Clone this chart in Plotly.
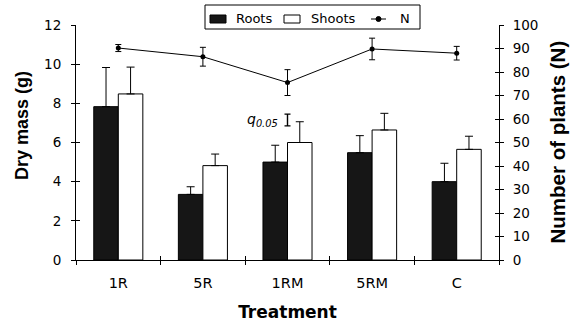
import plotly.graph_objects as go

treatments = ["1R", "5R", "1RM", "5RM", "C"]
roots = [7.83, 3.35, 5.0, 5.48, 4.0]
roots_err = [2.0, 0.39, 0.86, 0.87, 0.94]
shoots = [8.48, 4.82, 6.0, 6.64, 5.65]
shoots_err = [1.37, 0.59, 1.06, 0.85, 0.67]
n_plants = [90.2, 86.5, 75.5, 89.8, 88.0]
n_err = [1.5, 4.0, 5.5, 4.6, 2.9]
q_center = 7.15
q_half = 0.3
legend_labels = ["Roots", "Shoots", "N"]

HFONT = "DejaVu Sans, sans-serif"
VFONT = "Liberation Sans, Arial, sans-serif"

# plot-area geometry (px) used for paper-coordinate placement of the legend
L, R, T, B = 76, 79, 25, 66
W, H = 578, 326
PW, PH = W - L - R, H - T - B


def px(xp):
    return (xp - L) / PW


def py(yp):
    return (H - B - yp) / PH


fig = go.Figure()
fig.add_trace(go.Bar(
    x=treatments, y=roots, name=legend_labels[0], showlegend=False,
    marker=dict(color="#161616", line=dict(color="black", width=1)),
    error_y=dict(type="data", symmetric=False, array=roots_err,
                 arrayminus=[0]*5, color="black", thickness=1, width=4),
))
fig.add_trace(go.Bar(
    x=treatments, y=shoots, name=legend_labels[1], showlegend=False,
    marker=dict(color="white", line=dict(color="black", width=1)),
    error_y=dict(type="data", symmetric=False, array=shoots_err,
                 arrayminus=[0]*5, color="black", thickness=1, width=4),
))
fig.add_trace(go.Scatter(
    x=treatments, y=n_plants, name=legend_labels[2], yaxis="y2", showlegend=False,
    mode="lines+markers",
    line=dict(color="black", width=1),
    marker=dict(color="black", size=5),
    error_y=dict(type="data", array=n_err, color="black", thickness=1, width=3),
))
# q0.05 indicator
fig.add_trace(go.Scatter(
    x=["1RM"], y=[q_center], mode="markers", showlegend=False,
    marker=dict(size=1, color="rgba(0,0,0,0)"),
    error_y=dict(type="data", array=[q_half], color="black", thickness=1.4, width=3),
))
# invisible traces to carry the inner-tick axes
fig.add_trace(go.Scatter(x=[], y=[], xaxis="x2", yaxis="y3", showlegend=False, hoverinfo="skip"))
fig.add_trace(go.Scatter(x=[], y=[], xaxis="x2", yaxis="y4", showlegend=False, hoverinfo="skip"))

fig.add_annotation(
    x="1RM", y=q_center, xref="x", yref="y", xanchor="right", yanchor="middle",
    xshift=-8, showarrow=False,
    text="<i>q</i><sub><i>0.05</i></sub>",
    font=dict(family=HFONT, size=14, color="black"),
)

# axis titles for the vertical axes
fig.add_annotation(x=-54/PW, y=0.57, xref="paper", yref="paper", showarrow=False,
                   text="<b>Dry mass (g)</b>", textangle=-90, xanchor="center", yanchor="middle",
                   font=dict(family=VFONT, size=18, color="black"))
fig.add_annotation(x=1 + 58/PW, y=0.5, xref="paper", yref="paper", showarrow=False,
                   text="<b>Number of plants (N)</b>", textangle=-90, xanchor="center", yanchor="middle",
                   font=dict(family=VFONT, size=20.5, color="black"))

# legend box drawn by hand
shape_kw = dict(xref="paper", yref="paper")
fig.add_shape(type="rect", x0=px(205), x1=px(420), y0=py(29), y1=py(5),
              line=dict(color="black", width=1), fillcolor="white", layer="above", **shape_kw)
fig.add_shape(type="rect", x0=px(210), x1=px(226), y0=py(23), y1=py(15),
              line=dict(color="black", width=1), fillcolor="#161616", layer="above", **shape_kw)
fig.add_shape(type="rect", x0=px(284), x1=px(300), y0=py(23), y1=py(15),
              line=dict(color="black", width=1), fillcolor="white", layer="above", **shape_kw)
fig.add_shape(type="line", x0=px(371), x1=px(386), y0=py(19), y1=py(19),
              line=dict(color="black", width=1), layer="above", **shape_kw)
fig.add_shape(type="circle", x0=px(376), x1=px(381), y0=py(21.5), y1=py(16.5),
              line=dict(color="black", width=1), fillcolor="black", layer="above", **shape_kw)
for lx, lab in zip([234, 309, 398], legend_labels):
    fig.add_annotation(x=px(lx), y=py(19), xref="paper", yref="paper", showarrow=False,
                       text=lab, xanchor="left", yanchor="middle",
                       font=dict(family=HFONT, size=13, color="black"))

axis_common = dict(showgrid=False, zeroline=False, showline=True, linecolor="black",
                   linewidth=1, ticks="outside", ticklen=4, tickcolor="black",
                   automargin=False,
                   tickfont=dict(family=HFONT, size=13.5, color="black"))
inner = dict(showgrid=False, zeroline=False, showline=False, ticks="inside", ticklen=4,
             tickcolor="black", showticklabels=False, automargin=False, fixedrange=True)

fig.update_layout(
    width=W, height=H,
    margin=dict(l=L, r=R, t=T, b=B, autoexpand=False),
    paper_bgcolor="white", plot_bgcolor="white",
    barmode="group", bargap=0.42, bargroupgap=0,
    font=dict(family=HFONT, color="black"),
    xaxis=dict(**{**axis_common, "tickfont": dict(family=HFONT, size=14.5, color="black")},
               type="category", tickson="boundaries", range=[-0.5, 4.5],
               ticklabelstandoff=10,
               title=dict(text="<b>Treatment</b>", font=dict(family=HFONT, size=17), standoff=15)),
    xaxis2=dict(**inner, overlaying="x", anchor="y", side="bottom", range=[-0.5, 4.5],
                tickmode="array", tickvals=[-0.5, 0.5, 1.5, 2.5, 3.5, 4.5]),
    yaxis=dict(**axis_common, range=[0, 12], dtick=2, ticklabelstandoff=7),
    yaxis2=dict(**axis_common, range=[0, 100], dtick=10, overlaying="y", side="right",
                ticklabelstandoff=6),
    yaxis3=dict(**inner, overlaying="y", anchor="x2", side="left", range=[0, 12], dtick=2),
    yaxis4=dict(**inner, overlaying="y", anchor="x2", side="right", range=[0, 100], dtick=10),
    showlegend=False,
)

fig.write_html("out.html", config={"displayModeBar": False},
               post_script="document.body.style.margin='0';document.body.style.overflow='hidden';")
